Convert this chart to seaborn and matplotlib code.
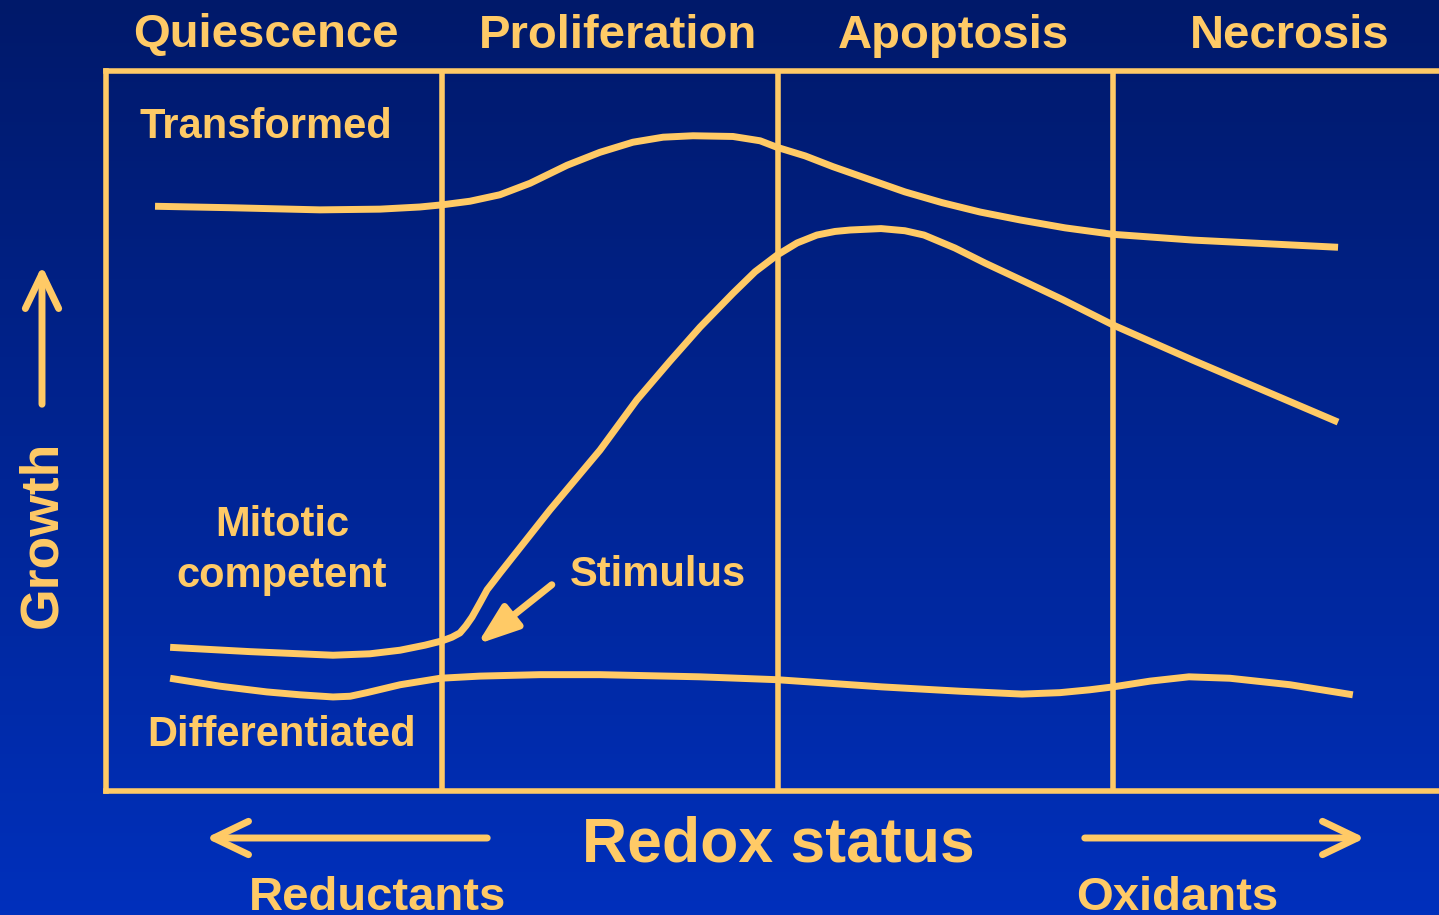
import numpy as np
import pandas as pd
import seaborn as sns
import matplotlib.pyplot as plt
from matplotlib.colors import LinearSegmentedColormap
from matplotlib.patches import FancyArrowPatch

# Canvas size in pixels
W, H = 1439, 915
YELLOW = "#FFCA66"

# Column headers (one per redox zone) and zone borders on the redox axis
phases = ["Quiescence", "Proliferation", "Apoptosis", "Necrosis"]
zone_edges = [1, 2, 3]

# Curves: redox position (0-4, one unit per zone) vs growth (0-1)
transformed_x = [0.146, 0.369, 0.637, 0.816, 0.935, 1.001, 1.084, 1.173, 1.263, 1.373,
                 1.471, 1.569, 1.659, 1.748, 1.867, 1.948, 1.998, 2.082, 2.165, 2.275,
                 2.379, 2.490, 2.603, 2.722, 2.856, 2.999, 3.237, 3.669]
transformed_y = [0.812, 0.810, 0.807, 0.808, 0.811, 0.814, 0.819, 0.828, 0.844, 0.869,
                 0.887, 0.901, 0.908, 0.910, 0.909, 0.903, 0.894, 0.882, 0.867, 0.849,
                 0.832, 0.817, 0.804, 0.793, 0.782, 0.773, 0.765, 0.755]

mitotic_x = [0.191, 0.429, 0.676, 0.786, 0.876, 0.950, 1.001, 1.030, 1.054, 1.072,
             1.090, 1.114, 1.135, 1.155, 1.173, 1.322, 1.471, 1.581, 1.680, 1.769,
             1.867, 1.933, 1.998, 2.058, 2.117, 2.171, 2.216, 2.308, 2.379, 2.436,
             2.528, 2.618, 2.737, 2.850, 2.999, 3.237, 3.669]
mitotic_y = [0.199, 0.193, 0.188, 0.190, 0.195, 0.202, 0.208, 0.213, 0.219, 0.229,
             0.241, 0.261, 0.279, 0.291, 0.302, 0.390, 0.473, 0.543, 0.597, 0.644,
             0.691, 0.721, 0.744, 0.761, 0.772, 0.777, 0.779, 0.781, 0.778, 0.772,
             0.754, 0.733, 0.707, 0.682, 0.647, 0.598, 0.512]

differentiated_x = [0.191, 0.339, 0.479, 0.578, 0.676, 0.727, 0.777, 0.876, 0.995,
                    1.114, 1.292, 1.471, 1.769, 1.998, 2.311, 2.543, 2.728, 2.841,
                    2.930, 2.999, 3.109, 3.225, 3.347, 3.526, 3.713]
differentiated_y = [0.156, 0.145, 0.137, 0.133, 0.130, 0.131, 0.136, 0.147, 0.156,
                    0.159, 0.161, 0.161, 0.158, 0.154, 0.144, 0.138, 0.134, 0.136,
                    0.140, 0.144, 0.152, 0.158, 0.156, 0.147, 0.133]

df = pd.concat([
    pd.DataFrame({"redox": transformed_x, "growth": transformed_y, "curve": "Transformed"}),
    pd.DataFrame({"redox": mitotic_x, "growth": mitotic_y, "curve": "Mitotic competent"}),
    pd.DataFrame({"redox": differentiated_x, "growth": differentiated_y, "curve": "Differentiated"}),
], ignore_index=True)

sns.set_theme(style="white")
plt.rcParams["font.family"] = ["Liberation Sans", "DejaVu Sans"]
plt.rcParams["font.weight"] = "bold"

fig = plt.figure(figsize=(W / 100, H / 100), dpi=100)


def fx(x):
    return x / W


def fy(y):
    return 1 - y / H


# dark-to-bright blue background
bg = fig.add_axes([0, 0, 1, 1], zorder=-10)
cmap = LinearSegmentedColormap.from_list("bg", ["#00196A", "#0030BC"])
bg.imshow(np.linspace(0, 1, 256).reshape(-1, 1), aspect="auto", cmap=cmap,
          extent=[0, 1, 0, 1], origin="upper")
bg.axis("off")

# main frame: 4 zones, the right edge runs off the canvas
ax = fig.add_axes([fx(106), fy(790.5), 1343.2 / W, 719.5 / H])
ax.patch.set_alpha(0)
sns.lineplot(data=df, x="redox", y="growth", hue="curve", palette=[YELLOW] * 3,
             estimator=None, sort=False, legend=False, linewidth=5, ax=ax)
for line in ax.lines:
    line.set_solid_capstyle("butt")
    line.set_solid_joinstyle("round")

for e in zone_edges:
    ax.axvline(e, color=YELLOW, lw=4, zorder=1)
for s in ax.spines.values():
    s.set_color(YELLOW)
    s.set_linewidth(4)
ax.set_xlim(0, 4)
ax.set_ylim(0, 1)
ax.set_xticks([])
ax.set_yticks([])
ax.set_xlabel("")
ax.set_ylabel("")

txt = dict(color=YELLOW, weight="bold", ha="center", va="baseline")

for name, cx in zip(phases, [266, 617.5, 953, 1289.5]):
    fig.text(fx(cx), fy(47.5), name, fontsize=34, **txt)

fig.text(fx(265.5), fy(137.5), "Transformed", fontsize=30, **txt)
fig.text(fx(282), fy(536.5), "Mitotic", fontsize=30, **txt)
fig.text(fx(282), fy(586.5), "competent", fontsize=30, **txt)
fig.text(fx(282), fy(745.5), "Differentiated", fontsize=30, **txt)
fig.text(fx(657.5), fy(586), "Stimulus", fontsize=30, **txt)

fig.text(fx(778.5), fy(861.5), "Redox status", fontsize=45, **txt)
fig.text(fx(377.5), fy(910.5), "Reductants", fontsize=34, **txt)
fig.text(fx(1177.5), fy(910.5), "Oxidants", fontsize=34, **txt)
fig.text(fx(56), fy(534), "Growth", fontsize=38.5, rotation=90,
         rotation_mode="anchor", **txt)


def arrow(x0, y0, x1, y1, style):
    fig.add_artist(FancyArrowPatch((fx(x0), fy(y0)), (fx(x1), fy(y1)),
                                   transform=fig.transFigure, arrowstyle=style,
                                   mutation_scale=1, lw=5, color=YELLOW,
                                   capstyle="round", joinstyle="round"))


open_head = "->,head_length=25,head_width=12"
arrow(490, 838, 203, 838, open_head)
arrow(1082, 838, 1368, 838, open_head)
arrow(42, 407, 42, 263, open_head)
arrow(554, 583, 475, 646, "-|>,head_length=25,head_width=9")

fig.savefig("out.png", dpi=100)
